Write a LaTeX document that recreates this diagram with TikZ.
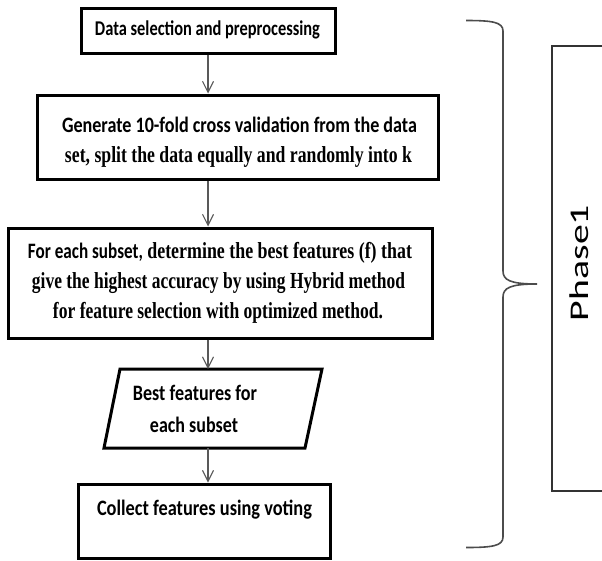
\documentclass[tikz,border=0pt]{standalone}
\usepackage{fontspec}
\usepackage{graphicx}
\usetikzlibrary{arrows.meta}
\newfontfamily\calfont{Carlito}
\newfontfamily\timfont{Liberation Serif}
\newcommand\fitline[2]{\resizebox{#1pt}{\height}{#2}}
\begin{document}
\begin{tikzpicture}[x=1pt,y=-1pt,
  box/.style={draw=black, line width=3pt, fill=white, inner sep=0pt},
  arr/.style={draw=black!65, line width=1.1pt, -{Straight Barb[length=11pt,width=11pt]}},
  txt/.style={anchor=base, inner sep=0pt, text=black},
  cb/.style={font=\calfont\bfseries\fontsize{22}{24}\selectfont},
  tb/.style={font=\timfont\bfseries\fontsize{23}{25}\selectfont},
  brace/.style={draw=black!70, line width=1.6pt},
  phasebox/.style={draw=black!80, line width=1.4pt}
]
\fill[white] (0,0) rectangle (602,560);
\clip (0,0) rectangle (602,560);

% boxes
\node[box, minimum width=254pt, minimum height=45pt] (b1) at (208,30.5) {};
\node[box, minimum width=401pt, minimum height=84pt] (b2) at (237.5,137) {};
\node[box, minimum width=424pt, minimum height=110pt] (b3) at (220,283) {};
\draw[black, line width=3pt, fill=white, line join=miter] (104,448) -- (120,369) -- (322,369) -- (305,448) -- cycle;
\coordinate (ptop) at (208,369);
\coordinate (pbot) at (208,448);
\node[box, minimum width=252pt, minimum height=74pt] (b5) at (204,521) {};

% texts
\node[txt, cb, font=\calfont\bfseries\fontsize{21}{23}\selectfont] (t1) at (207.5,35) {\fitline{225}{Data selection and preprocessing}};
\node[txt, cb] (t2a) at (239.5,132) {\fitline{355}{Generate 10-fold cross validation from the data}};
\node[txt, tb] (t2b) at (238.5,162) {\fitline{347}{set, split the data equally and randomly into k}};
\node[txt, tb] (t3a) at (220,258) {\fitline{384}{{\calfont\bfseries\fontsize{22}{24}\selectfont For each subset,} determine the best features (f) that}};
\node[txt, tb] (t3b) at (218.5,288) {\fitline{373}{give the highest accuracy by using Hybrid method}};
\node[txt, tb] (t3c) at (218,318) {\fitline{330}{for feature selection with optimized method.}};
\node[txt, cb] (t4a) at (195,400) {\fitline{124}{Best features for}};
\node[txt, cb] (t4b) at (194,432) {\fitline{88}{each subset}};
\node[txt, cb] (t5) at (204.5,515) {\fitline{215}{Collect features using voting}};

% connectors
\draw[arr] (b1.south) -- (b1.south |- b2.north);
\draw[arr] (b1.south |- b2.south) -- (b1.south |- b3.north);
\draw[arr] (b1.south |- b3.south) -- (ptop);
\draw[arr] (pbot) -- (b1.south |- b5.north);

% brace
\draw[brace] (466,20.5) .. controls (492,20.5) and (503,22) .. (503,31)
  -- (503,271) .. controls (503,280) and (510,284) .. (537,284)
  .. controls (510,284) and (503,288) .. (503,297)
  -- (503,537) .. controls (503,546) and (492,547.5) .. (466,547.5);

% phase box
\draw[phasebox] (640,46) -- (552,46) -- (552,491) -- (640,491);
\node[rotate=90, anchor=base, inner sep=0pt] (ph) at (588,263) {\fitline{116}{\calfont\fontsize{27}{29}\selectfont Phase1}};
\end{tikzpicture}
\end{document}
